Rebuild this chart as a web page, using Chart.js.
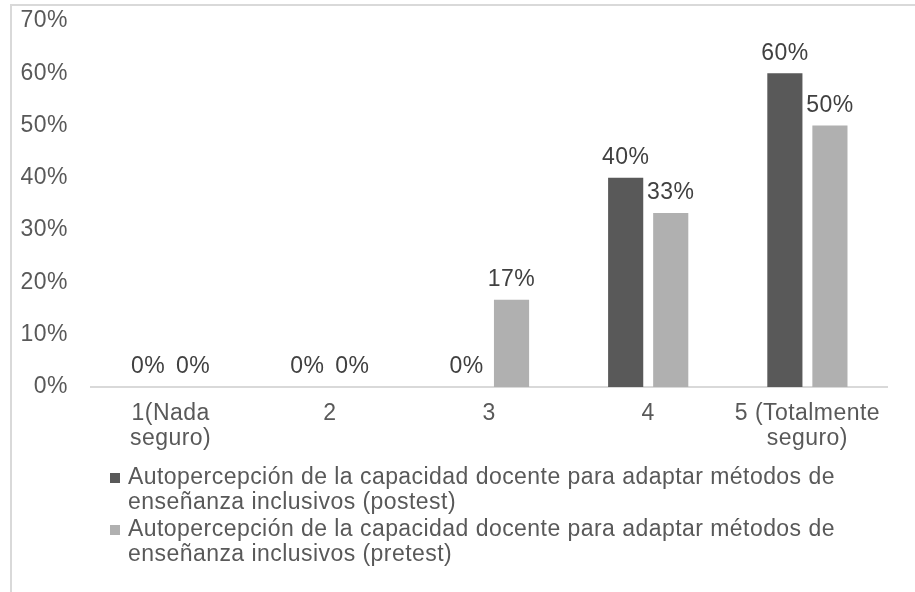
<!DOCTYPE html>
<html>
<head>
<meta charset="utf-8">
<script src="https://cdn.jsdelivr.net/npm/chart.js@4.4.0/dist/chart.umd.min.js"></script>
<style>
  html, body { margin: 0; padding: 0; background: #fff; }
  #frame {
    position: absolute; left: 10px; top: 4px;
    width: 905px; height: 588px;
    border-left: 2px solid #d9d9d9; border-top: 2px solid #d9d9d9;
  }
  #chart { display: block; }
</style>
</head>
<body>
<div id="frame"><canvas id="chart" width="903" height="586"></canvas></div>
<script>
// categorías del eje X (con saltos de línea como en el original)
const categories = [['1(Nada', 'seguro)'], '2', '3', '4', ['5 (Totalmente', 'seguro)']];
// valores en %
const postest = [0, 0, 0, 40, 60];
const pretest = [0, 0, 16.7, 33.3, 50];
const seriesNames = [
    ['Autopercepción de la capacidad docente para adaptar métodos de', 'enseñanza inclusivos (postest)'],
    ['Autopercepción de la capacidad docente para adaptar métodos de', 'enseñanza inclusivos (pretest)']
];
const seriesColors = ['#595959', '#b0b0b0'];

const FONT = '"Liberation Sans", Arial, sans-serif';
const SIZE = 23;
const TEXT = '#595959';
const SPACING = '0.45px';

// el texto del original es algo más ancho: un poco de espaciado
const spacing = {
    id: 'spacing',
    beforeUpdate(chart) { chart.ctx.letterSpacing = SPACING; },
    beforeDraw(chart) { chart.ctx.letterSpacing = SPACING; }
};

// etiquetas de valor encima de cada barra
const valueLabels = {
    id: 'valueLabels',
    afterDatasetsDraw(chart) {
        const ctx = chart.ctx;
        ctx.save();
        ctx.font = SIZE + 'px ' + FONT;
        ctx.fillStyle = '#404040';
        ctx.textAlign = 'center';
        ctx.textBaseline = 'middle';
        chart.data.datasets.forEach((ds, i) => {
            chart.getDatasetMeta(i).data.forEach((bar, j) => {
                ctx.fillText(Math.round(ds.data[j]) + '%', bar.x, bar.y - 20);
            });
        });
        ctx.restore();
    }
};

// leyenda con texto en varias líneas
const wrappedLegend = {
    id: 'wrappedLegend',
    afterDraw(chart) {
        const ctx = chart.ctx;
        const x = 98;
        let y = chart.chartArea.bottom + 91;
        ctx.save();
        ctx.font = SIZE + 'px ' + FONT;
        ctx.textAlign = 'left';
        ctx.textBaseline = 'middle';
        seriesNames.forEach((lines, i) => {
            ctx.fillStyle = seriesColors[i];
            ctx.fillRect(x, y - 5, 10, 10);
            ctx.fillStyle = TEXT;
            lines.forEach((line, k) => {
                ctx.fillText(line, x + 18, y + k * 25);
            });
            y += 52;
        });
        ctx.restore();
    }
};

new Chart(document.getElementById('chart'), {
    type: 'bar',
    data: {
        labels: categories,
        datasets: [
            { label: seriesNames[0].join(' '), data: postest, backgroundColor: seriesColors[0] },
            { label: seriesNames[1].join(' '), data: pretest, backgroundColor: seriesColors[1] }
        ]
    },
    options: {
        responsive: false,
        animation: false,
        events: [],
        datasets: { bar: { categoryPercentage: 0.566, barPercentage: 0.78 } },
        layout: { padding: { left: 0, right: 28, top: 15, bottom: 140 } },
        plugins: { legend: { display: false }, tooltip: { enabled: false } },
        scales: {
            x: {
                grid: { display: false, drawTicks: false },
                border: { display: true, color: '#d9d9d9', width: 2 },
                afterFit: s => { s.height = 65; s.paddingLeft = 0; s.paddingRight = 0; },
                ticks: { color: TEXT, font: { family: FONT, size: SIZE, lineHeight: 1.09 }, padding: 14, maxRotation: 0, autoSkip: false }
            },
            y: {
                min: 0, max: 70,
                grid: { display: false, drawTicks: false },
                border: { display: false },
                afterFit: s => { s.width = 79; s.paddingTop = 0; s.paddingBottom = 0; },
                ticks: { stepSize: 10, color: TEXT, font: { family: FONT, size: SIZE }, padding: 23, callback: v => v + '%' }
            }
        }
    },
    plugins: [spacing, valueLabels, wrappedLegend]
});
</script>
</body>
</html>
